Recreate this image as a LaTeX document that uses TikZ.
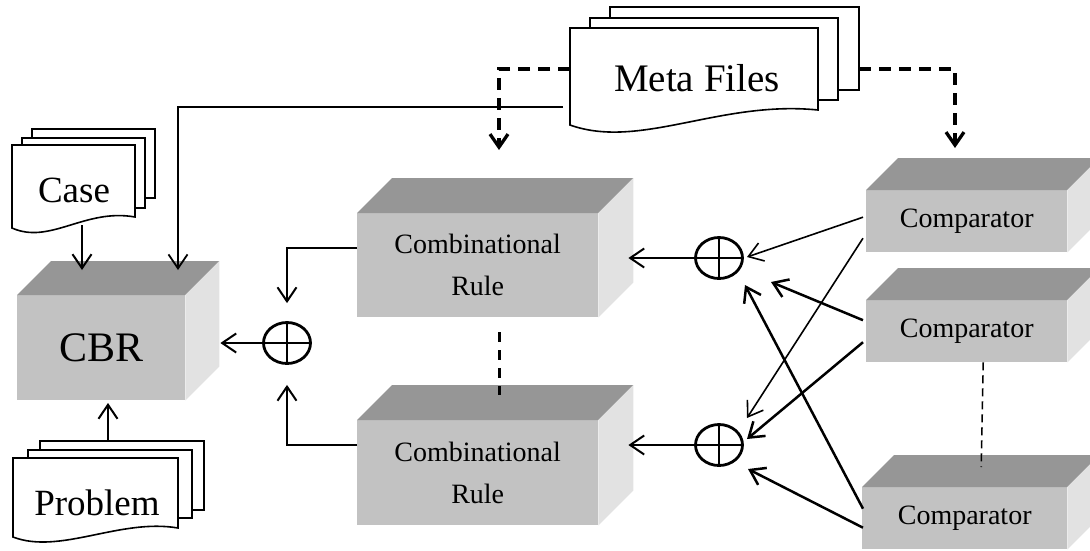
\documentclass[tikz,border=0pt]{standalone}
\usepackage{fontspec}
\setmainfont{Liberation Serif}
\usetikzlibrary{arrows.meta,shapes.geometric}
\definecolor{cubetopc}{HTML}{969696}
\definecolor{cubefrontc}{HTML}{C2C2C2}
\definecolor{cubesidec}{HTML}{E2E2E2}
\newcommand{\fdoc}{\fontsize{37}{44}\selectfont}
\newcommand{\fmeta}{\fontsize{39}{46}\selectfont}
\newcommand{\fcbr}{\fontsize{42}{50}\selectfont}
\newcommand{\fcomb}{\fontsize{28}{42}\selectfont}
\newcommand{\cubebox}[8]{%
  \node[cubefront, minimum width=#4pt, minimum height=#5pt, anchor=north west, font=#7] (#1) at (#2,#3) {#8};
  \fill[cubetopc] (#1.north west) -- ++(#6,-#6) -- ([shift={(#6,-#6)}]#1.north east) -- (#1.north east) -- cycle;
  \fill[cubesidec] (#1.north east) -- ++(#6,-#6) -- ([shift={(#6,-#6)}]#1.south east) -- (#1.south east) -- cycle;
}
\tikzset{
  cubefront/.style={fill=cubefrontc, inner sep=0pt, align=center},
  docln/.style={draw=black, line width=1.6pt, fill=white},
  oplus/.style={draw, ellipse, line width=2.8pt, minimum width=47pt, minimum height=41pt, inner sep=0pt},
  arr/.style={line width=2pt, -{Straight Barb[length=14pt,width=19pt]}},
  arrthick/.style={line width=2.5pt, -{Straight Barb[length=14pt,width=19pt]}},
  arrthin/.style={line width=1.6pt, -{Straight Barb[length=14pt,width=19pt]}},
  metadash/.style={line width=3.3pt, dash pattern=on 12pt off 8pt, -{Straight Barb[length=13pt,width=18pt]}},
  rdash/.style={line width=3.3pt, dash pattern=on 10pt off 8pt},
  cdash/.style={line width=1.6pt, dash pattern=on 8pt off 5pt}
}
\begin{document}
\begin{tikzpicture}[x=1pt,y=-1pt]
\useasboundingbox (0,0) rectangle (1090,550);
\clip (0,0) rectangle (1090,550);

% ---- Case document stack
\draw[docln] (32,129) rectangle (155,198);
\draw[docln] (22,138) rectangle (145,208);
\draw[docln] (12,145) -- (135,145) -- (135,217) .. controls (85,208) and (50,245) .. (12,228) -- cycle;
\node[font=\fdoc, anchor=base] (case) at (74,202) {Case};

% ---- Problem document stack
\draw[docln] (40,441) rectangle (204,510);
\draw[docln] (28,450) rectangle (192,518);
\draw[docln] (13,458) -- (178,458) -- (178,528) .. controls (120,518) and (60,555) .. (13,537) -- cycle;
\node[font=\fdoc, anchor=base] (prob) at (97,515) {Problem};

% ---- Meta Files document stack
\draw[docln] (610,7) rectangle (859,90);
\draw[docln] (590,18) rectangle (838,100);
\draw[docln] (570,28) -- (818,28) -- (818,110) .. controls (720,100) and (640,150) .. (570,125) -- cycle;
\node[font=\fmeta, anchor=base] (meta) at (697,91) {Meta Files};

% ---- cubes
\cubebox{cbr}{17}{295}{168}{105}{34}{\fcbr}{CBR}
\cubebox{r1}{357}{213}{241}{104}{35}{\fcomb}{Combinational\\Rule}
\cubebox{r2}{357}{420}{241}{105}{35}{\fcomb}{Combinational\\Rule}
\cubebox{c1}{866}{190}{201}{62}{32}{\fcomb}{Comparator}
\cubebox{c2}{866}{300}{201}{62}{32}{\fcomb}{Comparator}
\cubebox{c3}{862}{487}{205}{62}{32}{\fcomb}{Comparator}

% ---- oplus nodes
\node[oplus] (o0) at (287,343) {};
\node[oplus] (o1) at (719,258) {};
\node[oplus] (o2) at (719,445) {};
\foreach \o in {o0,o1,o2}{
  \draw[line width=2.6pt] (\o.north) -- (\o.south) (\o.west) -- (\o.east);
}

% ---- coordinates for free ends
\coordinate (caseout) at (82,225);
\coordinate (cbrtipA) at (82,270);
\coordinate (cbrtipB) at (178,270);
\coordinate (probout) at (108,441);
\coordinate (cbrtipC) at (108,403);
\coordinate (mS) at (563,107);
\coordinate (mL) at (570,69);
\coordinate (mR) at (859,69);
\coordinate (r1top) at (499,150);
\coordinate (c1top) at (955,148);
\coordinate (cbrR) at ([xshift=35pt]cbr.east);
\coordinate (r1R) at ([xshift=30pt]r1.east);
\coordinate (r2R) at ([xshift=30pt]r2.east);
\coordinate (t0a) at ([yshift=18pt]o0.north);
\coordinate (t0b) at ([yshift=-20pt]o0.south);
\coordinate (k11) at (747,257);
\coordinate (k12) at (747,418);
\coordinate (k21) at (771,282);
\coordinate (k22) at (747,439);
\coordinate (k31) at (745,285);
\coordinate (k32) at (748,469);

% ---- connectors on the left
\draw[arr] (caseout) -- (cbrtipA);
\draw[arr] (probout) -- (cbrtipC);
\draw[line width=1.8pt, -{Straight Barb[length=14pt,width=19pt]}] (mS) -| (cbrtipB);
\draw[arr] (o0.west) -- (o0.west -| cbrR);
\draw[arr] ([yshift=17pt]r1.west) -| (t0a);
\draw[arr] ([yshift=27.5pt]r2.west) -| (t0b);

% ---- meta dashed connectors
\draw[metadash] (mL) -| (r1top);
\draw[metadash] (mR) -| (c1top);

% ---- dashed separators
\draw[rdash] ([xshift=21.5pt,yshift=-15pt]r1.south) -- ([xshift=21.5pt,yshift=25pt]r2.north);
\draw[cdash] ([xshift=16.5pt]c2.south) -- ([xshift=16.5pt,yshift=20pt]c3.north);

% ---- oplus to rules
\draw[arr] (o1.west) -- (o1.west -| r1R);
\draw[arr] (o2.west) -- (o2.west -| r2R);

% ---- comparators to oplus
\draw[arrthin] ([xshift=-3pt,yshift=4pt]c1.west) -- (k11);
\draw[arrthin] ([xshift=-3pt,yshift=-17pt]c1.west) -- (k12);
\draw[arrthick] ([xshift=-3pt,yshift=11pt]c2.west) -- (k21);
\draw[arrthick] ([xshift=-3pt,yshift=-11pt]c2.west) -- (k22);
\draw[arrthick] ([xshift=1pt,yshift=9.5pt]c3.west) -- (k31);
\draw[arrthick] ([xshift=1pt,yshift=-9.5pt]c3.west) -- (k32);
\end{tikzpicture}
\end{document}
